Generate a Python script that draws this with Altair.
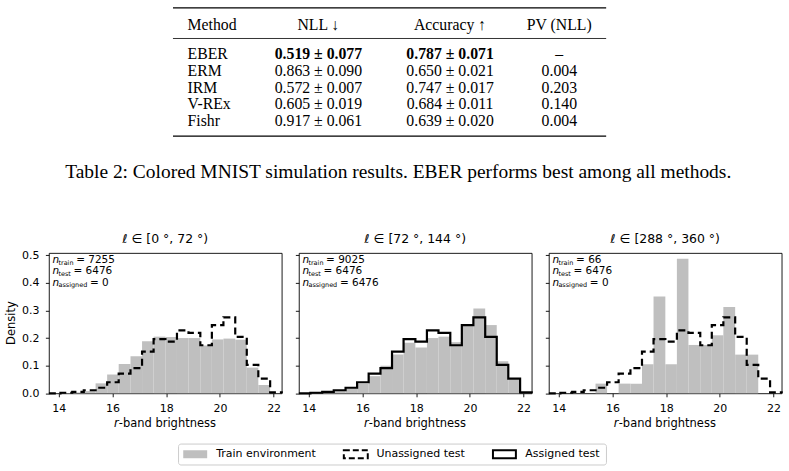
import altair as alt
import pandas as pd

# ------------------------------------------------------------------ data
table_headers = ["Method", "NLL ↓", "Accuracy ↑", "PV (NLL)"]
methods = ["EBER", "ERM", "IRM", "V-REx", "Fishr"]
nll_vals = ["0.519 ± 0.077", "0.863 ± 0.090", "0.572 ± 0.007", "0.605 ± 0.019", "0.917 ± 0.061"]
acc_vals = ["0.787 ± 0.071", "0.650 ± 0.021", "0.747 ± 0.017", "0.684 ± 0.011", "0.639 ± 0.020"]
pv_vals = ["–", "0.004", "0.203", "0.140", "0.004"]
best_method = "EBER"
caption_text = "Table 2: Colored MNIST simulation results. EBER performs best among all methods."

bin_edges = [13.63, 14.06, 14.50, 14.93, 15.37, 15.80, 16.23, 16.67, 17.10, 17.53, 17.97,
             18.40, 18.83, 19.27, 19.70, 20.13, 20.57, 21.00, 21.43, 21.87, 22.30]
test_density = [0.000, 0.002, 0.005, 0.011, 0.020, 0.040, 0.071, 0.091, 0.151, 0.196,
                0.187, 0.228, 0.219, 0.174, 0.247, 0.275, 0.204, 0.103, 0.053, 0.003]
train_density_0_72 = [0.000, 0.001, 0.003, 0.008, 0.036, 0.068, 0.106, 0.134, 0.188, 0.205,
                      0.204, 0.200, 0.200, 0.173, 0.195, 0.198, 0.194, 0.093, 0.030, 0.000]
train_density_72_144 = [0.000, 0.001, 0.003, 0.008, 0.018, 0.035, 0.062, 0.100, 0.140, 0.183,
                        0.166, 0.200, 0.205, 0.185, 0.245, 0.307, 0.247, 0.116, 0.050, 0.000]
train_density_288_360 = [0.000, 0.000, 0.000, 0.000, 0.035, 0.000, 0.035, 0.035, 0.105, 0.350,
                         0.105, 0.487, 0.175, 0.175, 0.210, 0.312, 0.140, 0.140, 0.000, 0.000]
train_densities = [train_density_0_72, train_density_72_144, train_density_288_360]
panel_titles = ["ℓ ∈ [0 °, 72 °)", "ℓ ∈ [72 °, 144 °)", "ℓ ∈ [288 °, 360 °)"]
n_train = [7255, 9025, 66]
n_test = [6476, 6476, 6476]
n_assigned = [0, 6476, 0]
test_is_assigned = [False, True, False]
legend_labels = ["Train environment", "Unassigned test", "Assigned test"]
x_ticks = [14, 16, 18, 20, 22]
y_ticks = [0.0, 0.1, 0.2, 0.3, 0.4, 0.5]
x_domain = [13.63, 22.30]
y_domain = [0, 0.508]

# ------------------------------------------------------------------ layout
W, H = 789, 471
PW, PH = 233.4, 140.7
OX, OY = 48.3, 251.7      # canvas position of the first panel
GAP = 16.6
SANS = "DejaVu Sans"
SERIF = "Liberation Serif"
GRAY = "#bfbfbf"


def cx(x):
    return x - OX


def cy(y):
    return y - OY


one = pd.DataFrame({"a": [0]})


def vtext(txt, x, y, size=11, align="left", font=SANS, style="normal", weight="normal", angle=0):
    kw = dict(align=align, baseline="middle", font=font, fontSize=size, color="black",
              fontStyle=style, fontWeight=weight)
    if angle:
        kw["angle"] = angle
    return alt.Chart(one).mark_text(**kw).encode(
        x=alt.value(x), y=alt.value(y), text=alt.value(txt))


def data_text(df, size, align="left", font=SANS, style="normal", weight="normal"):
    return alt.Chart(df).mark_text(align=align, baseline="middle", font=font, fontSize=size,
                                   color="black", fontStyle=style, fontWeight=weight).encode(
        x=alt.X("px:Q", scale=None, axis=None),
        y=alt.Y("py:Q", scale=None, axis=None),
        text="t:N")


xscale = alt.Scale(domain=x_domain, nice=False, zero=False)
yscale = alt.Scale(domain=y_domain, nice=False, zero=True)

# approximate DejaVu Sans advance widths (em) for subscript placement
dv = {"t": .392, "r": .411, "a": .613, "i": .278, "n": .634, "e": .615, "s": .521,
      "g": .635, "d": .635}
SUB = 6.5
MAIN = 10.5


def sub_w(s):
    return sum(dv[c] for c in s) * SUB


def panel(k):
    xaxis = alt.Axis(values=x_ticks, format="d", title=None, labelOverlap=False)
    yaxis = alt.Axis(values=y_ticks, format=".1f", title=None, labels=(k == 0),
                     labelOverlap=False)
    dens = train_densities[k]
    bars_df = pd.DataFrame({"x0": bin_edges[:-1], "x1": bin_edges[1:], "d": dens})
    bars = alt.Chart(bars_df).mark_rect(color=GRAY).encode(
        x=alt.X("x0:Q", scale=xscale, axis=xaxis),
        x2="x1:Q",
        y=alt.Y("d:Q", scale=yscale, axis=yaxis),
        y2=alt.datum(0),
    )
    xs = [bin_edges[0]] + bin_edges[:-1] + [bin_edges[-1]]
    ys = [0] + test_density + [0]
    line_df = pd.DataFrame({"x": xs, "y": ys, "i": list(range(len(xs)))})
    lkw = dict(interpolate="step-after", color="black", strokeWidth=2.2)
    if not test_is_assigned[k]:
        lkw["strokeDash"] = [7, 4]
    line = alt.Chart(line_df).mark_line(**lkw).encode(
        x=alt.X("x:Q", scale=xscale, axis=xaxis),
        y=alt.Y("y:Q", scale=yscale, axis=yaxis),
        order="i:Q")

    layers = []
    if k == 0:
        # invisible rectangle that spans the whole canvas (fixes overall bounds)
        layers.append(alt.Chart(one).mark_rect(opacity=0).encode(
            x=alt.value(cx(0)), x2=alt.value(cx(W)), y=alt.value(cy(0)), y2=alt.value(cy(H))))
    layers += [bars, line]

    # title
    layers.append(vtext(panel_titles[k], PW / 2, -13.7, size=12.5, align="center"))
    # annotations
    subs = ["train", "test", "assigned"]
    vals = [n_train[k], n_test[k], n_assigned[k]]
    ly = [7.3, 18.5, 29.7]
    n_df = pd.DataFrame({"t": ["n"] * 3, "px": [3.7] * 3, "py": ly})
    s_df = pd.DataFrame({"t": subs, "px": [9.6] * 3, "py": [v + 2.3 for v in ly]})
    e_df = pd.DataFrame({"t": [f"= {v}" for v in vals],
                         "px": [9.6 + sub_w(s) + 2.6 for s in subs], "py": ly})
    layers += [data_text(n_df, MAIN, style="italic"), data_text(s_df, SUB),
               data_text(e_df, MAIN)]
    # x axis title with italic r
    x0 = PW / 2 - 51.5
    layers.append(vtext("r", x0, 171.3, size=11.5, style="italic"))
    layers.append(vtext("-band brightness", x0 + 4.9, 171.3, size=11.5))

    if k == 0:
        layers.append(vtext("Density", -36.6, PH / 2, size=11.5, align="center", angle=270))
        # ---------------- table
        col_x = [187.3, 318.5, 450.5, 560.0]
        hy = 22.7
        ry0, rdy = 52.7, 16.7
        hdr = pd.DataFrame({"t": table_headers, "px": [cx(v) for v in col_x], "py": [cy(hy)] * 4,
                            "c": [0, 1, 2, 3]})
        rows = []
        for r, m in enumerate(methods):
            for c, t in enumerate([m, nll_vals[r], acc_vals[r], pv_vals[r]]):
                rows.append({"t": t, "px": cx(col_x[c]), "py": cy(ry0 + rdy * r), "c": c,
                             "b": (m == best_method and c in (1, 2))})
        body = pd.DataFrame(rows)
        TF = 15.8
        layers.append(data_text(hdr[hdr.c == 0], TF, font=SERIF))
        layers.append(data_text(hdr[hdr.c > 0], TF, align="center", font=SERIF))
        layers.append(data_text(body[body.c == 0], TF, font=SERIF))
        layers.append(data_text(body[(body.c > 0) & (~body.b)], TF, align="center", font=SERIF))
        layers.append(data_text(body[body.b], TF, align="center", font=SERIF, weight="bold"))
        for yy, sw in [(6.0, 1.3), (36.7, 0.8), (134.5, 1.3)]:
            layers.append(alt.Chart(one).mark_rule(color="black", strokeWidth=sw).encode(
                x=alt.value(cx(172.7)), x2=alt.value(cx(607.0)), y=alt.value(cy(yy))))
        # caption
        layers.append(vtext(caption_text, cx(398.5), cy(170.7), size=19.5, align="center",
                            font=SERIF))
        # ---------------- legend
        layers.append(alt.Chart(one).mark_rect(fill="white", stroke="#cccccc", strokeWidth=1,
                                               cornerRadius=2.5).encode(
            x=alt.value(cx(178.3)), x2=alt.value(cx(607.3)),
            y=alt.value(cy(443.3)), y2=alt.value(cy(464.3))))
        sy0, sy1, ty = cy(449.5), cy(457.5), cy(453.5)
        layers.append(alt.Chart(one).mark_rect(fill=GRAY).encode(
            x=alt.value(cx(183.0)), x2=alt.value(cx(207.0)), y=alt.value(sy0), y2=alt.value(sy1)))
        layers.append(alt.Chart(one).mark_rect(fill="transparent", stroke="black", strokeWidth=2,
                                               strokeDash=[6, 3]).encode(
            x=alt.value(cx(344.0)), x2=alt.value(cx(368.0)), y=alt.value(sy0), y2=alt.value(sy1)))
        layers.append(alt.Chart(one).mark_rect(fill="transparent", stroke="black",
                                               strokeWidth=2).encode(
            x=alt.value(cx(493.5)), x2=alt.value(cx(516.5)), y=alt.value(sy0), y2=alt.value(sy1)))
        for lab, lx in zip(legend_labels, [216.0, 376.7, 526.0]):
            layers.append(vtext(lab, cx(lx), ty, size=11))

    return alt.layer(*layers).properties(width=PW, height=PH)


chart = alt.hconcat(panel(0), panel(1), panel(2), spacing=GAP, bounds="flush").properties(
    padding=0, background="white"
).configure_view(
    stroke="black", strokeWidth=0.9
).configure_axis(
    grid=False, domain=False, ticks=True, tickColor="black", tickWidth=0.9, tickSize=3.5,
    labelFont=SANS, labelFontSize=11, labelColor="black"
).configure_axisX(labelPadding=6).configure_axisY(labelPadding=6.5)

chart.save("out.html", embed_options={"renderer": "svg", "actions": False})
